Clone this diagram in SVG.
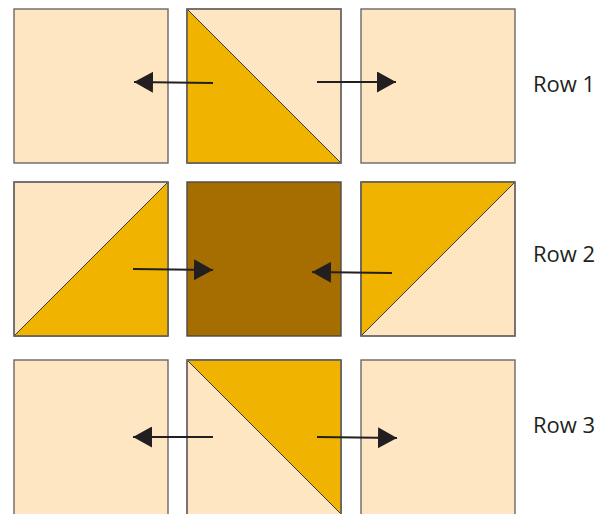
<svg xmlns="http://www.w3.org/2000/svg" width="609" height="514" viewBox="0 0 609 514">
<style>
.sq{fill:#FFE6C2;stroke:#6b6766;stroke-width:1.4}
.y{fill:#F0B400;stroke:#3a3a3a;stroke-width:1}
.br{fill:#A66E00;stroke:#4a4a4a;stroke-width:1.4}
.ln{stroke:#231F20;stroke-width:1.8;fill:none}
.lbl{font-family:"Open Sans","Liberation Sans",sans-serif;font-size:22px;fill:#231F20}
</style>
<defs>
<marker id="ah" markerWidth="19" markerHeight="21" refX="19" refY="10.5" orient="auto" markerUnits="userSpaceOnUse">
<path d="M0,0 L19,10.5 L0,21 Z" fill="#231F20"/>
</marker>
</defs>
<rect width="609" height="514" fill="#fff"/>
<g id="r1c1"><rect class="sq" x="14" y="9" width="154" height="154"/></g>
<g id="r1c2"><rect class="sq" x="187" y="9" width="154" height="154"/><path class="y" d="M187,9 L341,163 L187,163 Z"/><rect x="187" y="9" width="154" height="154" fill="none" stroke="#6b6766" stroke-width="1.4"/></g>
<g id="r1c3"><rect class="sq" x="361" y="9" width="154" height="154"/></g>
<g id="r2c1"><rect class="sq" x="14" y="182" width="154" height="154"/><path class="y" d="M14,336 L168,182 L168,336 Z"/><rect x="14" y="182" width="154" height="154" fill="none" stroke="#6b6766" stroke-width="1.4"/></g>
<g id="r2c2"><rect class="br" x="187" y="182" width="154" height="154"/></g>
<g id="r2c3"><rect class="sq" x="361" y="182" width="154" height="154"/><path class="y" d="M361,182 L515,182 L361,336 Z"/><rect x="361" y="182" width="154" height="154" fill="none" stroke="#6b6766" stroke-width="1.4"/></g>
<g id="r3c1"><rect class="sq" x="14" y="360" width="154" height="160"/></g>
<g id="r3c2"><rect class="sq" x="187" y="360" width="154" height="160"/><path class="y" d="M187,360 L341,360 L341,514 Z"/><rect x="187" y="360" width="154" height="160" fill="none" stroke="#6b6766" stroke-width="1.4"/></g>
<g id="r3c3"><rect class="sq" x="361" y="360" width="154" height="160"/></g>
<g id="connectors">
<line class="ln" x1="213" y1="83" x2="134" y2="82" marker-end="url(#ah)"/>
<line class="ln" x1="317" y1="82" x2="396" y2="82" marker-end="url(#ah)"/>
<line class="ln" x1="133" y1="269" x2="213" y2="270" marker-end="url(#ah)"/>
<line class="ln" x1="392" y1="273" x2="312" y2="272" marker-end="url(#ah)"/>
<line class="ln" x1="213" y1="437" x2="133" y2="437" marker-end="url(#ah)"/>
<line class="ln" x1="317" y1="437" x2="397" y2="438" marker-end="url(#ah)"/>
</g>
<g id="labels">
<text class="lbl" x="533" y="92">Row 1</text>
<text class="lbl" x="533" y="262">Row 2</text>
<text class="lbl" x="533" y="433">Row 3</text>
</g>
</svg>
